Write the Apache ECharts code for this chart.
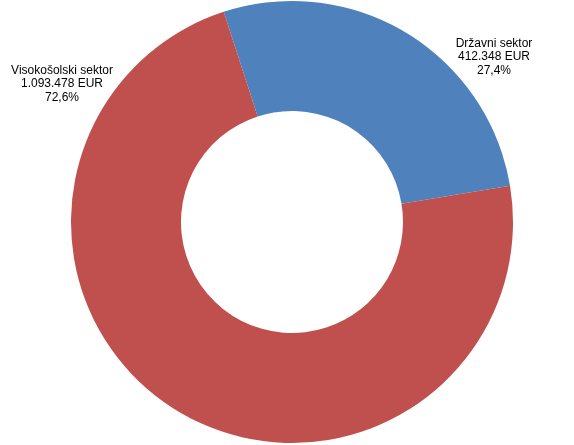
<!DOCTYPE html>
<html>
<head>
<meta charset="utf-8">
<script src="https://cdn.jsdelivr.net/npm/echarts@6/dist/echarts.min.js"></script>
<style>html,body{margin:0;padding:0;background:#fff}#c{width:574px;height:445px}</style>
</head>
<body>
<div id="c"></div>
<script>
const categories = ['Državni sektor', 'Visokošolski sektor'];
const amounts = [412348, 1093478];
const amountLabels = ['412.348 EUR', '1.093.478 EUR'];
const percentLabels = ['27,4%', '72,6%'];
const colors = ['#4F81BD', '#C0504D'];
const labelPos = [[494, 57], [62, 84]];

const chart = echarts.init(document.getElementById('c'), null, {renderer: 'canvas'});
chart.setOption({
  animation: false,
  series: [{
    type: 'pie',
    center: [292, 222],
    radius: [111, 221],
    startAngle: 108,
    clockwise: true,
    avoidLabelOverlap: false,
    labelLine: {show: false},
    label: {
      show: true,
      position: 'outside',
      color: '#000',
      fontFamily: 'Liberation Sans, Arial, sans-serif',
      fontSize: 12,
      lineHeight: 13.5,
      align: 'center',
      formatter: p => p.name + '\n' + amountLabels[p.dataIndex] + '\n' + percentLabels[p.dataIndex]
    },
    labelLayout: p => ({x: labelPos[p.dataIndex][0], y: labelPos[p.dataIndex][1], align: 'center', verticalAlign: 'middle'}),
    itemStyle: {borderWidth: 0},
    emphasis: {disabled: true},
    data: categories.map((n, i) => ({name: n, value: amounts[i], itemStyle: {color: colors[i]}}))
  }]
});
</script>
</body>
</html>
